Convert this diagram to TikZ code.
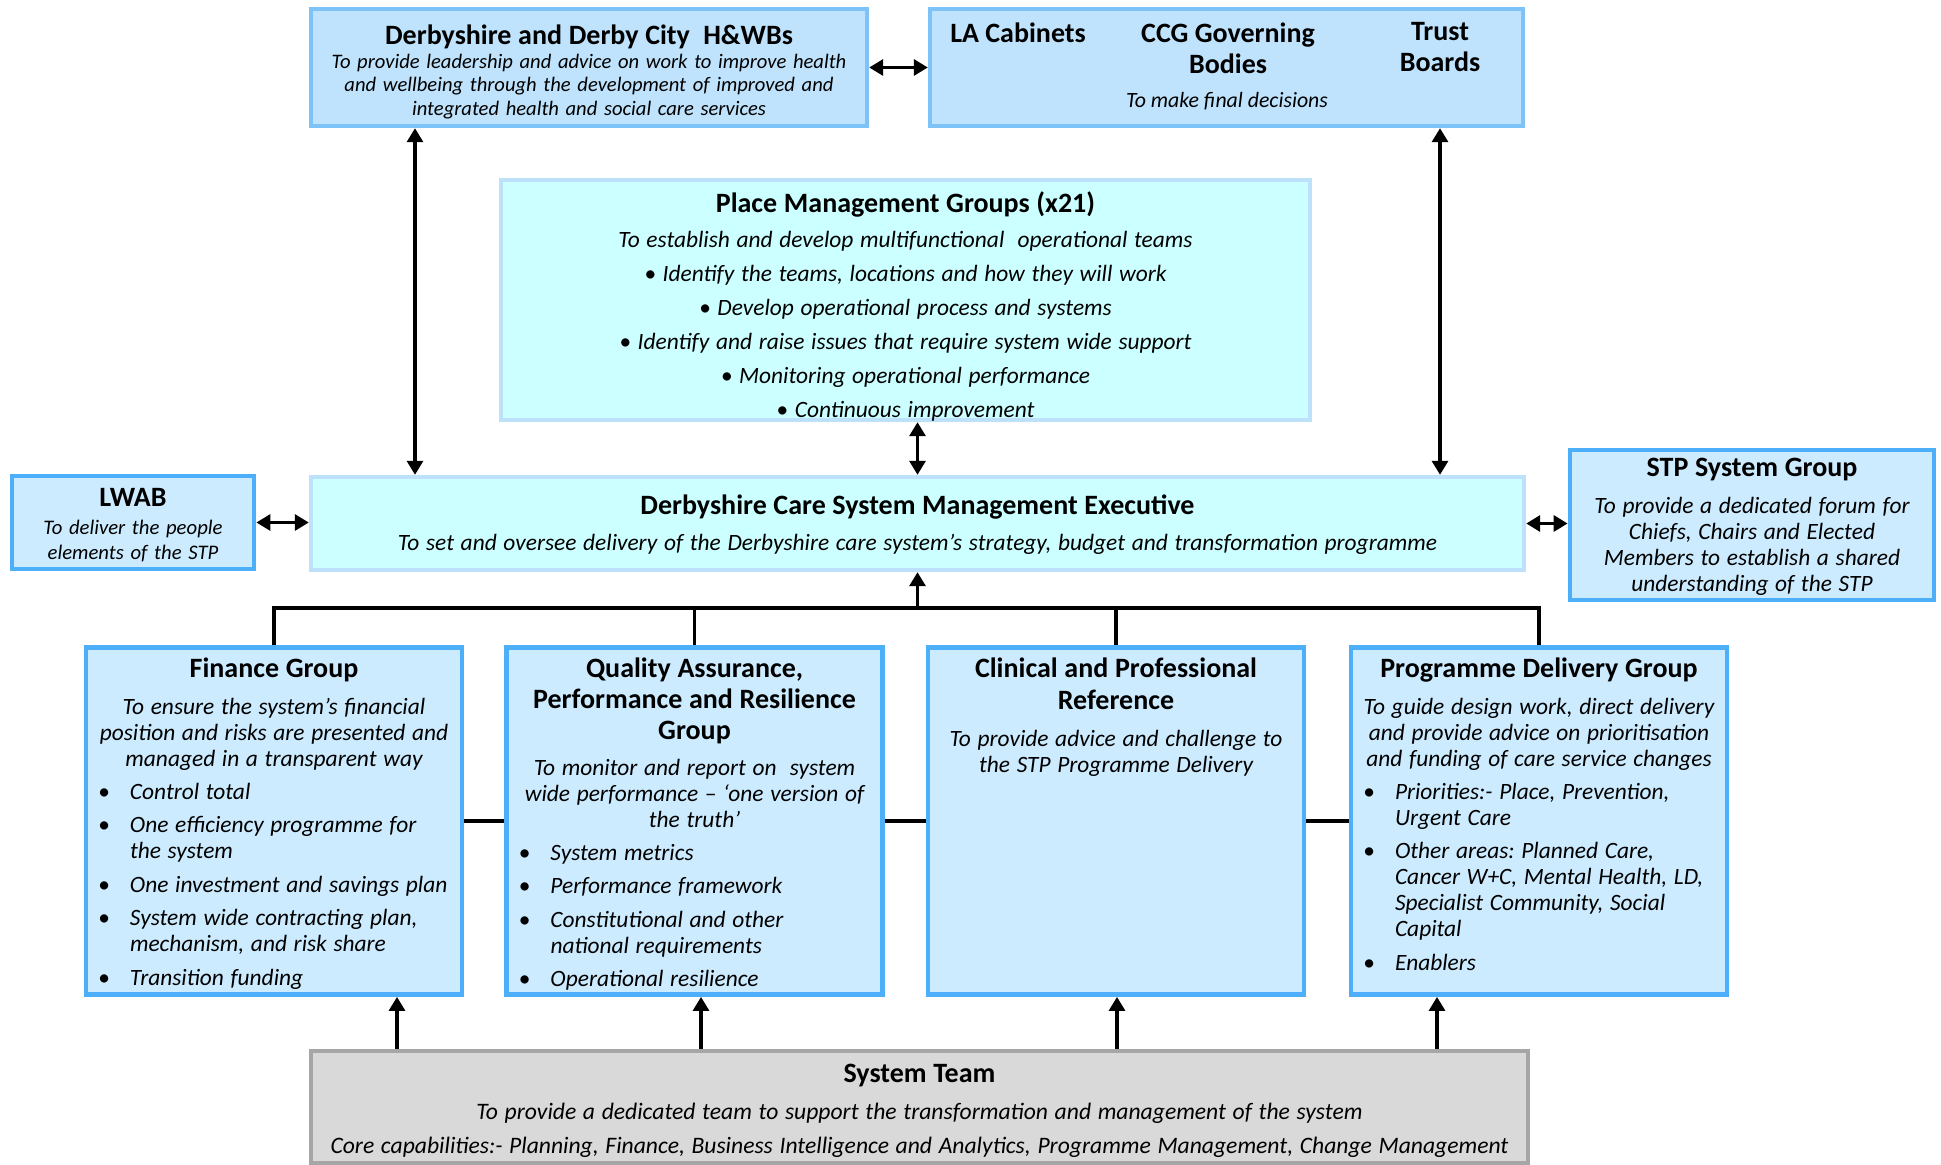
\documentclass[tikz,border=0pt]{standalone}
\usepackage{fontspec}
\setmainfont{Carlito}
\usepackage{xcolor}
\usepackage{tikz}
\usetikzlibrary{arrows.meta,positioning}
\definecolor{topfill}{HTML}{BFE3FC}
\definecolor{topedge}{HTML}{7DC3F8}
\definecolor{midfill}{HTML}{CCFFFF}
\definecolor{midedge}{HTML}{BDE1FB}
\definecolor{grpfill}{HTML}{CCEBFE}
\definecolor{grpedge}{HTML}{4DAEFA}
\definecolor{teamfill}{HTML}{D9D9D9}
\definecolor{teamedge}{HTML}{A6A6A6}
\frenchspacing
\newcommand{\hd}{\fontsize{14}{15.5}\selectfont\bfseries}
\newcommand{\bd}{\fontsize{11.7}{13}\selectfont\itshape}
\newcommand{\sm}{\fontsize{10.3}{11.75}\selectfont\itshape}
\newcommand{\bitem}[1]{\par\vspace{3.7pt}{\raggedright\let\\\newline\hangindent=20pt\hangafter=1\noindent\makebox[20pt][l]{\hspace{4pt}\textbullet}#1\par}}
\tikzset{
  topbox/.style={draw=topedge, fill=topfill, line width=2.2pt, inner sep=2pt, align=center},
  midbox/.style={draw=midedge, fill=midfill, line width=2.2pt, inner sep=2pt, align=center},
  grpbox/.style={draw=grpedge, fill=grpfill, line width=2.4pt, inner xsep=2pt, inner ysep=2pt,
    align=center, text width=184pt, minimum width=188pt, minimum height=173.5pt,
    text height=12.8pt, text depth=156.7pt},
  teambox/.style={draw=teamedge, fill=teamfill, line width=2.4pt, inner sep=2pt, align=center},
  lbl/.style={inner sep=0pt, align=center},
  link/.style={draw=black, line width=1.6pt},
  both/.style={link, {Triangle[width=8pt,length=7pt]}-{Triangle[width=8pt,length=7pt]}},
  up/.style={link, -{Triangle[width=8pt,length=7pt]}},
}

\begin{document}
\begin{tikzpicture}[x=0.5pt,y=-0.5pt]
  \useasboundingbox (0,0) rectangle (1941,1165);

  % top row
  \node[topbox, text width=274pt, minimum width=278pt, minimum height=58.5pt,
    text height=15.6pt, text depth=38.9pt] (hwb) at (589,67.5)
    {{\hd Derbyshire and Derby City\ \ H\&WBs\par}\vspace{0.4pt}
     {\sm To provide leadership and advice on work to improve health\\
      and wellbeing through the development of improved and\\
      integrated health and social care services\par}};
  \node[topbox, minimum width=296.5pt, minimum height=58.5pt] (la) at (1226.5,67.5) {};
  \node[lbl, anchor=north, font=\hd] (lacab) at (1018,22) {LA Cabinets};
  \node[lbl, anchor=north, font=\hd] (ccg) at (1228,22) {CCG Governing\\Bodies};
  \node[lbl, anchor=north, font=\hd] (trust) at (1440,22) {Trust\\Boards};
  \node[lbl] (lanote) at (1227,101) {\fontsize{10.9}{13}\selectfont\itshape To make final decisions};

  % place groups
  \node[midbox, text width=400pt, minimum width=404.5pt, minimum height=120pt,
    text height=14.5pt, text depth=101.5pt] (place) at (905.5,300)
    {{\hd Place Management Groups (x21)\par}\vspace{0.5pt}
     {\fontsize{11.7}{17}\selectfont\itshape To establish and develop multifunctional\ \ operational teams\\
      \textbullet\ Identify the teams, locations and how they will work\\
      \textbullet\ Develop operational process and systems\\
      \textbullet\ Identify and raise issues that require system wide support\\
      \textbullet\ Monitoring operational performance\\
      \textbullet\ Continuous improvement\par}};

  % middle row
  \node[grpbox, text width=117pt, minimum width=121pt, minimum height=46.5pt,
    text height=13pt, text depth=29.5pt] (lwab) at (133,522.5)
    {{\hd LWAB\par}\vspace{1.7pt}
     {\fontsize{10.35}{12.5}\selectfont\itshape To deliver the people\\ elements of the STP\par}};
  \node[midbox, text width=600pt, minimum width=606.5pt, minimum height=46.5pt,
    text height=16.9pt, text depth=25.6pt] (exec) at (917.5,523.5)
    {{\hd Derbyshire Care System Management Executive\par}\vspace{5pt}
     {\bd To set and oversee delivery of the Derbyshire care system’s strategy, budget and transformation programme\par}};
  \node[grpbox, text width=178pt, minimum width=182pt, minimum height=75pt,
    text height=11.3pt, text depth=59.7pt] (stp) at (1752,525)
    {{\hd STP System Group\par}\vspace{5.5pt}
     {\bd To provide a dedicated forum for\\ Chiefs, Chairs and Elected\\
      Members to establish a shared\\ understanding of the STP\par}};

  % groups
  \node[grpbox] (fin) at (274,821)
    {{\hd Finance Group\par}\vspace{5.5pt}
     {\bd To ensure the system’s financial\\ position and risks are presented and\\ managed in a transparent way
      \bitem{Control total}
      \bitem{One efficiency programme for\\ the system}
      \bitem{One investment and savings plan}
      \bitem{System wide contracting plan,\\ mechanism, and risk share}
      \bitem{Transition funding}}};
  \node[grpbox] (qual) at (694.5,821)
    {{\hd Quality Assurance,\\ Performance and Resilience\\ Group\par}\vspace{5pt}
     {\bd To monitor and report on\ \ system\\ wide performance – ‘one version of\\ the truth’
      \bitem{System metrics}
      \bitem{Performance framework}
      \bitem{Constitutional and other\\ national requirements}
      \bitem{Operational resilience}}};
  \node[grpbox] (clin) at (1116,821)
    {{\fontsize{14}{16}\selectfont\bfseries Clinical and Professional\\ Reference\par}\vspace{5.5pt}
     {\bd To provide advice and challenge to\\ the STP Programme Delivery\par}};
  \node[grpbox] (prog) at (1539,821)
    {{\hd Programme Delivery Group\par}\vspace{5.5pt}
     {\bd To guide design work, direct delivery\\ and provide advice on prioritisation\\ and funding of care service changes
      \bitem{Priorities:- Place, Prevention,\\ Urgent Care}
      \bitem{Other areas: Planned Care,\\ Cancer W+C, Mental Health, LD,\\ Specialist Community, Social\\ Capital}
      \bitem{Enablers}}};

  % team
  \node[teambox, text width=600pt, minimum width=608.5pt, minimum height=56pt,
    text height=13.8pt, text depth=38.2pt] (team) at (919.5,1107)
    {{\hd System Team\par}\vspace{1.8pt}
     {\fontsize{11.8}{16.7}\selectfont\itshape To provide a dedicated team to support the transformation and management of the system\\
      Core capabilities:- Planning, Finance, Business Intelligence and Analytics, Programme Management, Change Management\par}};

  % connectors
  \coordinate (lcol) at (415,0);
  \coordinate (bus) at (917.5,608);
  \draw[both] (hwb) -- (la);
  \draw[both] (lcol |- hwb.south) -- (lcol |- exec.north);
  \draw[both] (trust.south |- la.south) -- (trust.south |- exec.north);
  \draw[both] (exec.north |- place.south) -- (exec.north);
  \draw[both] (lwab.east) -- (lwab.east -| exec.west);
  \draw[both] (exec.east) -- (exec.east -| stp.west);

  \draw[link] (fin.north) |- (bus) -| (prog.north);
  \draw[link] (qual.north) -- (qual.north |- bus);
  \draw[link] (clin.north) -- (clin.north |- bus);
  \draw[up] (bus) -- (exec.south);
  \draw[link] (fin) -- (qual);
  \draw[link] (qual) -- (clin);
  \draw[link] (clin) -- (prog);

  \foreach \x/\n in {397/fin,701/qual,1117/clin,1437/prog}
    \draw[up] (\x,0 |- team.north) -- (\x,0 |- \n.south);
\end{tikzpicture}
\end{document}
